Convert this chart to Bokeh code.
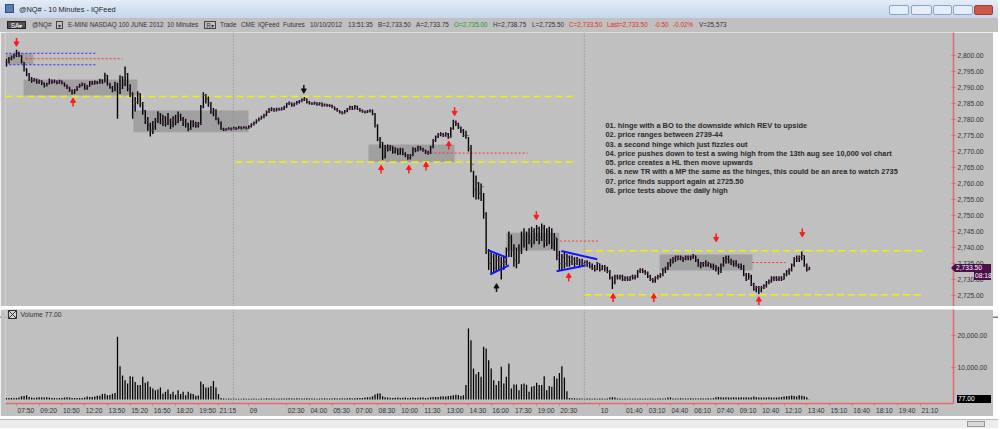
from bokeh.plotting import figure
from bokeh.models import (Range1d, FixedTicker, NumeralTickFormatter, Span, Label, Div,
                          ColumnDataSource, LinearAxis)
from bokeh.layouts import column
from bokeh.core.properties import value
from bokeh.embed import file_html
from bokeh.resources import INLINE

# ---------------- data (10-minute bars, index 0 = first bar on screen) ----------------
closes = [
    2797.9, 2799.0, 2799.5, 2800.0, 2801.0, 2800.0, 2797.9, 2795.8, 2794.3, 2792.7,
    2792.2, 2792.4, 2791.7, 2792.0, 2791.4, 2790.6, 2791.1, 2792.2, 2791.7, 2792.0,
    2791.4, 2792.0, 2791.4, 2790.6, 2790.1, 2789.1, 2788.2, 2789.1, 2790.1, 2790.6,
    2791.1, 2789.6, 2790.3, 2791.7, 2791.1, 2791.7, 2791.4, 2792.2, 2791.7, 2793.8,
    2791.1, 2790.1, 2789.1, 2791.1, 2788.5, 2793.2, 2791.1, 2794.3, 2789.6, 2788.0,
    2783.9, 2785.4, 2788.0, 2784.9, 2782.8, 2779.7, 2778.1, 2776.6, 2777.6, 2779.7,
    2781.8, 2779.2, 2780.7, 2778.7, 2779.7, 2778.1, 2780.2, 2779.2, 2781.3, 2780.2,
    2779.2, 2778.7, 2777.1, 2779.2, 2778.7, 2778.1, 2778.7, 2783.9, 2787.5, 2786.5,
    2784.9, 2782.3, 2782.8, 2780.2, 2779.2, 2777.1, 2776.8, 2777.0, 2777.2, 2777.0,
    2777.4, 2777.1, 2777.6, 2777.3, 2777.6, 2777.2, 2777.8, 2778.4, 2778.9, 2779.7,
    2780.2, 2780.7, 2781.3, 2782.3, 2783.0, 2783.3, 2782.8, 2783.3, 2783.1, 2783.3,
    2783.9, 2784.9, 2785.1, 2784.4, 2784.9, 2785.4, 2785.7, 2786.2, 2786.5, 2785.4,
    2785.1, 2784.9, 2785.2, 2784.7, 2785.1, 2784.4, 2784.6, 2784.4, 2784.4, 2783.9,
    2783.3, 2782.8, 2782.3, 2782.0, 2782.6, 2783.3, 2783.9, 2783.3, 2784.1, 2783.3,
    2782.8, 2782.5, 2782.3, 2782.6, 2782.8, 2781.8, 2778.1, 2773.9, 2772.9, 2768.2,
    2771.4, 2770.8, 2771.6, 2769.8, 2770.8, 2769.3, 2770.8, 2769.3, 2768.8, 2768.0,
    2768.8, 2770.8, 2770.3, 2771.4, 2770.8, 2770.3, 2769.8, 2769.5, 2771.4, 2773.4,
    2774.5, 2775.3, 2775.5, 2775.0, 2775.5, 2774.5, 2777.1, 2779.2, 2778.7, 2777.6,
    2776.6, 2775.0, 2775.0, 2771.0, 2766.0, 2758.0, 2760.0, 2757.0, 2759.0, 2750.5,
    2739.0, 2735.0, 2737.0, 2733.5, 2736.0, 2734.0, 2735.0, 2735.5, 2739.0, 2743.0,
    2739.0, 2736.0, 2735.0, 2739.0, 2743.0, 2742.0, 2744.0, 2742.0, 2745.0, 2743.0,
    2746.0, 2743.0, 2746.0, 2742.0, 2745.0, 2744.0, 2741.0, 2743.0, 2737.5, 2735.0,
    2737.0, 2735.0, 2737.0, 2735.5, 2736.5, 2735.0, 2736.0, 2735.5, 2735.0, 2735.5,
    2735.0, 2734.0, 2733.5, 2733.0, 2735.0, 2733.0, 2734.0, 2733.5, 2732.5, 2730.5,
    2729.0, 2731.0, 2730.5, 2731.0, 2730.0, 2730.5, 2730.0, 2731.0, 2730.5, 2731.0,
    2732.5, 2733.0, 2732.5, 2732.0, 2731.0, 2730.0, 2729.5, 2730.5, 2731.0, 2731.5,
    2733.0, 2733.5, 2735.0, 2736.0, 2736.5, 2737.0, 2736.5, 2737.0, 2736.5, 2737.0,
    2737.0, 2737.0, 2737.5, 2736.0, 2734.5, 2735.0, 2735.0, 2734.5, 2735.0, 2734.0,
    2734.0, 2733.5, 2732.5, 2734.5, 2736.0, 2736.5, 2735.5, 2735.5, 2735.0, 2734.5,
    2734.0, 2733.5, 2731.5, 2730.0, 2731.0, 2728.5, 2727.0, 2727.5, 2726.5, 2727.5,
    2728.0, 2729.0, 2729.5, 2730.5, 2730.5, 2730.0, 2730.5, 2730.0, 2731.5, 2732.5,
    2733.0, 2734.5, 2736.5, 2736.5, 2737.0, 2737.5, 2734.5, 2733.0, 2733.5,
]
highs = [
    2799.0, 2799.5, 2800.0, 2800.5, 2801.8, 2801.2, 2800.2, 2798.0, 2796.0, 2794.5,
    2793.3, 2793.0, 2792.8, 2792.5, 2792.3, 2791.6, 2791.5, 2792.8, 2792.5, 2792.5,
    2792.2, 2792.4, 2792.2, 2791.6, 2790.9, 2790.2, 2789.4, 2789.5, 2790.5, 2791.2,
    2791.6, 2791.3, 2790.8, 2792.0, 2792.0, 2792.2, 2792.0, 2792.7, 2792.6, 2794.6,
    2793.9, 2791.5, 2790.5, 2791.8, 2791.5, 2793.8, 2793.5, 2796.6, 2794.5, 2791.0,
    2788.5, 2787.0, 2788.8, 2788.2, 2785.5, 2783.0, 2780.8, 2779.0, 2779.5, 2780.5,
    2782.6, 2782.0, 2781.5, 2781.0, 2782.0, 2780.3, 2781.0, 2781.5, 2782.5, 2781.8,
    2780.8, 2780.2, 2779.0, 2779.8, 2779.8, 2779.3, 2779.2, 2784.5, 2788.5, 2788.0,
    2787.2, 2785.5, 2783.6, 2783.2, 2780.6, 2779.4, 2777.4, 2777.3, 2777.6, 2777.5,
    2777.8, 2777.6, 2778.0, 2777.8, 2777.9, 2777.8, 2778.2, 2778.8, 2779.4, 2780.1,
    2780.6, 2781.2, 2781.8, 2782.8, 2783.6, 2783.8, 2783.6, 2783.7, 2783.7, 2783.8,
    2784.3, 2785.2, 2785.6, 2785.3, 2785.3, 2785.8, 2786.1, 2786.6, 2787.0, 2786.6,
    2785.8, 2785.4, 2785.6, 2785.4, 2785.4, 2785.3, 2785.0, 2784.9, 2784.8, 2784.6,
    2784.1, 2783.6, 2783.0, 2782.6, 2783.0, 2783.6, 2784.3, 2784.2, 2784.5, 2784.3,
    2783.6, 2783.1, 2782.8, 2783.0, 2783.2, 2783.1, 2782.0, 2778.5, 2774.5, 2773.0,
    2772.0, 2772.2, 2772.0, 2771.8, 2771.3, 2771.0, 2771.2, 2771.0, 2769.8, 2769.2,
    2769.2, 2771.3, 2771.2, 2771.8, 2771.7, 2771.2, 2770.6, 2770.2, 2771.8, 2773.9,
    2775.0, 2775.8, 2776.0, 2775.8, 2776.0, 2775.8, 2777.6, 2779.9, 2779.7, 2779.0,
    2777.8, 2777.0, 2776.5, 2774.5, 2772.0, 2764.0, 2762.5, 2760.5, 2760.0, 2757.0,
    2751.0, 2739.5, 2738.5, 2738.0, 2738.0, 2737.5, 2737.0, 2737.0, 2740.0, 2745.0,
    2744.0, 2741.0, 2740.0, 2741.0, 2745.0, 2746.0, 2745.0, 2746.0, 2746.5, 2746.0,
    2747.0, 2746.5, 2747.5, 2747.0, 2746.0, 2746.5, 2746.0, 2744.5, 2743.0, 2739.0,
    2738.0, 2738.5, 2738.0, 2737.5, 2737.5, 2737.0, 2737.0, 2736.5, 2736.5, 2736.0,
    2736.0, 2735.5, 2735.0, 2734.5, 2735.5, 2735.0, 2734.5, 2734.5, 2734.0, 2733.0,
    2731.0, 2731.5, 2731.5, 2731.5, 2731.5, 2731.0, 2731.0, 2731.0, 2731.5, 2731.5,
    2733.0, 2733.5, 2733.5, 2733.0, 2732.5, 2731.5, 2730.5, 2731.0, 2731.5, 2732.0,
    2733.5, 2734.0, 2735.5, 2736.5, 2737.0, 2737.5, 2737.5, 2737.5, 2737.0, 2737.5,
    2737.5, 2737.5, 2738.0, 2737.5, 2736.5, 2735.5, 2735.5, 2736.0, 2735.5, 2735.0,
    2735.0, 2734.5, 2734.0, 2735.0, 2737.0, 2737.5, 2737.5, 2736.5, 2736.0, 2736.0,
    2735.0, 2735.0, 2734.5, 2732.0, 2732.0, 2731.5, 2729.0, 2728.0, 2728.0, 2728.0,
    2728.5, 2729.5, 2730.0, 2731.0, 2731.0, 2731.0, 2731.0, 2731.0, 2732.0, 2733.0,
    2733.5, 2735.0, 2737.0, 2737.5, 2737.5, 2738.75, 2737.5, 2735.0, 2734.0,
]
lows = [
    2796.5, 2797.5, 2798.5, 2799.0, 2799.5, 2799.5, 2797.5, 2795.0, 2793.5, 2792.0,
    2791.5, 2791.8, 2791.2, 2791.2, 2790.8, 2790.0, 2790.3, 2791.0, 2791.2, 2791.3,
    2791.0, 2791.2, 2790.9, 2790.2, 2789.5, 2788.7, 2787.8, 2788.0, 2788.9, 2789.9,
    2790.4, 2789.3, 2789.3, 2790.2, 2790.8, 2790.9, 2791.0, 2791.2, 2791.2, 2791.6,
    2790.6, 2789.6, 2788.5, 2788.8, 2780.2, 2788.0, 2789.5, 2790.5, 2788.8, 2787.0,
    2780.2, 2782.5, 2784.8, 2783.8, 2781.5, 2778.6, 2776.5, 2774.7, 2775.5, 2776.8,
    2778.9, 2778.5, 2778.0, 2777.8, 2778.3, 2777.0, 2777.6, 2778.2, 2778.8, 2779.5,
    2778.0, 2777.5, 2776.3, 2776.7, 2777.6, 2777.4, 2777.5, 2778.3, 2783.5, 2785.0,
    2784.0, 2781.8, 2781.0, 2779.8, 2778.4, 2776.7, 2776.4, 2776.5, 2776.8, 2776.6,
    2776.8, 2776.7, 2777.0, 2776.9, 2777.1, 2776.9, 2777.0, 2777.5, 2778.1, 2778.7,
    2779.4, 2780.0, 2780.4, 2781.0, 2782.0, 2782.6, 2782.4, 2782.5, 2782.7, 2782.8,
    2783.0, 2783.6, 2784.5, 2784.0, 2784.1, 2784.6, 2785.0, 2785.4, 2785.8, 2785.0,
    2784.7, 2784.5, 2784.6, 2784.3, 2784.4, 2784.0, 2784.1, 2784.0, 2783.9, 2783.5,
    2782.9, 2782.4, 2781.9, 2781.6, 2781.8, 2782.3, 2783.0, 2783.0, 2783.1, 2783.0,
    2782.4, 2782.1, 2781.9, 2782.0, 2782.2, 2781.3, 2777.5, 2773.2, 2771.0, 2767.4,
    2767.8, 2770.0, 2770.2, 2769.3, 2769.4, 2768.9, 2769.0, 2768.8, 2768.2, 2767.4,
    2767.5, 2768.5, 2769.8, 2770.0, 2770.3, 2769.9, 2769.2, 2769.0, 2769.3, 2771.0,
    2773.0, 2774.2, 2774.8, 2774.5, 2774.6, 2774.0, 2774.3, 2776.8, 2778.0, 2777.0,
    2775.8, 2774.5, 2774.0, 2770.0, 2763.5, 2755.7, 2755.0, 2755.0, 2754.5, 2749.0,
    2738.0, 2733.0, 2731.5, 2732.0, 2732.5, 2733.0, 2730.0, 2733.0, 2734.5, 2737.0,
    2737.0, 2734.0, 2733.5, 2735.0, 2738.0, 2740.0, 2739.0, 2741.0, 2740.0, 2741.0,
    2742.0, 2741.0, 2742.0, 2740.0, 2740.5, 2741.0, 2739.5, 2739.0, 2736.0, 2733.0,
    2733.0, 2733.5, 2734.0, 2734.0, 2734.5, 2734.0, 2734.5, 2734.0, 2734.5, 2734.0,
    2734.0, 2733.5, 2733.0, 2732.5, 2733.0, 2732.5, 2733.0, 2732.5, 2732.0, 2730.0,
    2727.0, 2728.5, 2730.0, 2730.0, 2729.5, 2729.5, 2729.5, 2729.5, 2730.0, 2730.0,
    2730.5, 2732.0, 2732.0, 2731.5, 2730.5, 2729.5, 2729.0, 2729.0, 2730.0, 2730.5,
    2731.0, 2732.0, 2733.0, 2734.0, 2735.0, 2735.5, 2736.0, 2736.0, 2735.5, 2736.0,
    2736.0, 2736.0, 2736.5, 2735.5, 2734.0, 2733.5, 2734.0, 2734.0, 2734.0, 2733.5,
    2733.0, 2732.5, 2731.5, 2732.0, 2734.0, 2735.0, 2735.0, 2734.5, 2734.0, 2734.0,
    2733.5, 2733.0, 2731.0, 2729.5, 2730.0, 2728.0, 2726.5, 2726.0, 2725.5, 2726.0,
    2727.0, 2727.5, 2728.5, 2729.0, 2729.5, 2729.5, 2729.5, 2729.5, 2730.0, 2731.0,
    2731.5, 2732.5, 2734.0, 2735.5, 2735.5, 2736.0, 2734.0, 2732.5, 2733.0,
]
volumes = [
    500, 500, 500, 500, 500, 600, 1000, 1100, 1350, 800,
    600, 500, 600, 700, 700, 600, 700, 600, 500, 500,
    400, 500, 500, 600, 700, 600, 500, 500, 500, 500,
    500, 600, 900, 800, 800, 900, 1200, 1200, 1700, 1800,
    1300, 1400, 1800, 2000, 19600, 10400, 7500, 6000, 5000, 7300,
    7100, 5500, 4500, 4500, 7100, 5200, 5600, 4000, 3400, 2900,
    3100, 3750, 1900, 2400, 3100, 1700, 2400, 1500, 2900, 1700,
    2400, 1350, 2400, 1900, 1700, 1150, 1250, 5600, 4800, 3750,
    3750, 4200, 5800, 3750, 1700, 500, 300, 250, 300, 200,
    300, 250, 200, 250, 300, 200, 250, 200, 300, 200,
    250, 300, 200, 400, 300, 350, 300, 250, 300, 350,
    300, 350, 400, 300, 350, 400, 350, 300, 350, 400,
    300, 350, 300, 250, 350, 300, 400, 350, 300, 350,
    400, 350, 300, 400, 350, 400, 450, 350, 400, 500,
    450, 500, 600, 700, 700, 1000, 1600, 1900, 1900, 1000,
    700, 600, 550, 500, 550, 600, 500, 550, 600, 500,
    550, 600, 500, 550, 650, 600, 500, 550, 700, 800,
    750, 800, 900, 1000, 900, 1100, 1200, 1300, 1500, 1400,
    1100, 1300, 4500, 22200, 18500, 9700, 7900, 8600, 7100, 16500,
    15900, 12300, 9700, 6000, 4500, 5800, 10200, 5000, 7100, 11250,
    3400, 4700, 4700, 2900, 4800, 5000, 4600, 2400, 4000, 4200,
    5200, 4500, 4500, 7300, 2900, 4200, 4000, 7300, 6600, 8300,
    10400, 6900, 2600, 500, 400, 400, 300, 300, 300, 250,
    300, 300, 250, 300, 250, 300, 300, 250, 300, 600,
    700, 600, 350, 300, 250, 300, 250, 300, 250, 300,
    250, 300, 250, 300, 250, 300, 300, 250, 300, 350,
    300, 350, 600, 650, 350, 300, 350, 400, 350, 300,
    350, 400, 350, 300, 350, 400, 350, 300, 400, 350,
    400, 700, 750, 700, 650, 700, 600, 650, 700, 650,
    600, 700, 650, 700, 600, 650, 900, 700, 650, 600,
    650, 600, 700, 650, 600, 650, 700, 750, 900, 1000,
    1100, 1250, 1100, 950, 1300, 1200, 1000, 700, 77,
]
assert len(closes) == len(highs) == len(lows) == len(volumes)

time_tick_bars = [4, 13, 22, 31, 40, 49, 58, 67, 76, 84,
                  96, 111, 120, 129, 138, 147, 156, 165, 174, 183, 192, 201, 210, 219,
                  235, 245, 254, 263, 272, 281, 290, 299, 308, 317, 326, 335, 344, 353, 362]
time_tick_labels = ["07:50", "09:20", "10:50", "12:20", "13:50", "15:20", "16:50", "18:20", "19:50", "21:15",
                    "09", "02:30", "04:00", "05:30", "07:00", "08:30", "10:00", "11:30", "13:00", "14:30",
                    "16:00", "17:30", "19:00", "20:30",
                    "10", "01:40", "03:10", "04:40", "06:10", "07:40", "09:10", "10:40", "12:10", "13:40",
                    "15:10", "16:40", "18:10", "19:40", "21:10"]
price_ticks = [2725, 2730, 2735, 2740, 2745, 2750, 2755, 2760, 2765, 2770, 2775, 2780, 2785, 2790, 2795, 2800]
volume_ticks = [10000, 20000]
session_breaks = [89.9, 228.9]
last_price = 2733.50
last_volume = 77
bar_timer = "08:18"

# shaded trading-range boxes
box_left = [-0.4, 6.8, 50.3, 143.4, 198.0, 258.7]
box_right = [10.7, 51.9, 95.9, 177.5, 219.0, 295.5]
box_top = [2800.6, 2792.5, 2782.8, 2772.2, 2744.6, 2737.8]
box_bottom = [2797.2, 2787.5, 2776.0, 2766.7, 2739.1, 2732.8]
# yellow dashed levels
yellow_x0 = [-0.4, 90.7, 229.3, 228.7]
yellow_x1 = [224.2, 224.2, 362.8, 362.8]
yellow_level = [2787.2, 2766.7, 2739.0, 2725.2]
# red dotted levels
red_x0 = [7.6, 168.0, 219.2, 295.4]
red_x1 = [45.9, 206.4, 234.6, 308.6]
red_level = [2799.0, 2769.5, 2742.0, 2735.3]
# blue dotted levels
blue_x0 = [-0.4, -0.4]
blue_x1 = [35.3, 35.3]
blue_level = [2800.7, 2797.1]
# blue triangle sides
tri_x0 = [191.0, 191.7, 219.8, 217.9]
tri_y0 = [2739.1, 2731.6, 2738.9, 2732.6]
tri_x1 = [198.3, 199.0, 234.0, 229.3]
tri_y1 = [2736.8, 2734.4, 2736.3, 2734.4]
# arrows (centre positions)
red_down_x = [4.0, 177.5, 209.9, 281.1, 315.2]
red_down_y = [2804.4, 2782.7, 2750.2, 2743.3, 2744.8]
red_up_x = [26.4, 148.4, 159.4, 166.2, 175.2, 222.7, 240.3, 256.4, 298.0]
red_up_y = [2785.2, 2764.2, 2764.2, 2765.2, 2771.7, 2730.5, 2724.1, 2724.1, 2723.1]
black_down_x = [117.8]
black_down_y = [2789.7]
black_up_x = [194.1]
black_up_y = [2727.2]

notes = [
    "01. hinge with a BO to the downside which REV to upside",
    "02. price ranges between 2739-44",
    "03. a second hinge which just fizzles out",
    "04. price pushes down to test a swing high from the 13th aug see 10,000 vol chart",
    "05. price creates a HL then move upwards",
    "06. a new TR with a MP the same as the hinges, this could be an area to watch 2735",
    "07. price finds support again at 2725.50",
    "08. price tests above the daily high",
]

header_items = [
    ("@NQ#", 32, "#333333"), ("E-MINI NASDAQ 100 JUNE 2012", 68, "#333333"),
    ("10 Minutes", 167, "#333333"), ("Trade", 220, "#333333"), ("CME", 241, "#333333"),
    ("IQFeed", 258, "#333333"), ("Futures", 283, "#333333"), ("10/10/2012", 310, "#333333"),
    ("13:51:35", 348, "#333333"), ("B=2,733.50", 378, "#333333"), ("A=2,733.75", 416, "#333333"),
    ("O=2,735.00", 454, "#1f9a1f"), ("H=2,738.75", 493, "#333333"), ("L=2,725.50", 532, "#333333"),
    ("C=2,733.50", 569, "#e02a2a"), ("Last=2,733.50", 607, "#e02a2a"), ("-0.50", 654, "#e02a2a"),
    ("-0.02%", 673, "#e02a2a"), ("V=25,573", 699, "#333333"),
]
window_title = "@NQ# - 10 Minutes - IQFeed"

# ---------------- layout constants ----------------
FONT = "Liberation Sans"
BG = "#c0c0c0"
AXIS_RED = "#e06a6a"
DIV_W = 998
LEFT = 5
FRAME_W = 948
PRICE_H = 274
VOL_H = 94
X_RANGE = (-0.356, 375.1)
PRICE_RANGE = (2721.56, 2807.19)
VOL_RANGE = (-1250, 28125)
PX_PER_PT = 3.2
VOL_PER_PX = 312.5
PX_PER_BAR = FRAME_W / (X_RANGE[1] - X_RANGE[0])
LABEL_PX = 6.7

def px_x(x):       # screenshot x -> bar index
    return (x - 5.9) / 2.525

def px_price(y):   # screenshot y -> price
    return 2800 - (y - 55) / PX_PER_PT

def px_vol(y):     # screenshot y -> volume
    return (399 - y) * VOL_PER_PX

idx = list(range(len(closes)))
opens = [closes[0]] + closes[:-1]

def style_axis(ax):
    ax.axis_line_color = AXIS_RED
    ax.axis_line_width = 1.5
    ax.major_tick_line_color = AXIS_RED
    ax.minor_tick_line_color = None
    ax.major_label_text_font = FONT
    ax.major_label_text_font_size = f"{LABEL_PX}px"
    ax.major_label_text_color = "#333333"
    ax.major_label_standoff = 2

def style(p):
    p.background_fill_color = BG
    p.border_fill_color = BG
    p.outline_line_color = None
    p.grid.visible = False
    ax = p.yaxis[0]
    style_axis(ax)
    ax.major_tick_in = 2
    ax.major_tick_out = 2
    ax.formatter = NumeralTickFormatter(format="0,0.00")

# ---------------- title bar + header ----------------
btns = ""
for bx, bw, col, bc in [(889, 20, "#e4edf8", "#8ea3bf"), (911, 21, "#e4edf8", "#8ea3bf"),
                        (933, 19, "#e4edf8", "#8ea3bf"), (953, 20, "#e4edf8", "#8ea3bf"),
                        (974, 19, "#d0584a", "#9a4038")]:
    btns += (f'<span style="position:absolute;left:{bx}px;top:5px;width:{bw}px;height:10px;'
             f'border:1px solid {bc};border-radius:2px;background:{col}"></span>')
title_div = Div(
    text=(f'<div style="position:relative;width:{DIV_W}px;height:18px;overflow:hidden;'
          'background:linear-gradient(#e3ecf7,#c6d6eb);font-family:\'Liberation Sans\',Arial;font-size:7.4px;line-height:18px;color:#1e1e1e">'
          '<span style="position:absolute;left:5px;top:4px;width:9px;height:9px;background:#5b7db0;border:1px solid #2f4f80"></span>'
          f'<span style="position:absolute;left:19px;top:1px">{window_title}</span>' + btns +
          '</div>'),
    width=DIV_W, height=18, margin=(0, 0, 0, 0))

spans = []
spans.append('<span style="position:absolute;left:7px;top:3px;width:19px;height:8px;background:#505050;'
             'border:1px solid #222;color:#fff;line-height:8px;text-align:center">SA&#9662;</span>')
spans.append('<span style="position:absolute;left:56px;top:3px;width:7px;height:8px;border:1px solid #444;'
             'line-height:8px;text-align:center;color:#333">&#9662;</span>')
spans.append('<span style="position:absolute;left:204px;top:3px;width:12px;height:8px;border:1px solid #444;'
             'line-height:8px;text-align:center;color:#333">R&#9662;</span>')
for txt, x, col in header_items:
    spans.append(f'<span style="position:absolute;left:{x}px;top:0;color:{col};white-space:nowrap">{txt}</span>')
# price-scale flags (last price, bar timer, last volume), overlaid on the scales
HEADER_TOP = 18
flag_css = ('position:absolute;z-index:20;white-space:nowrap;color:#fff;font-size:6.7px;'
            'line-height:8px;height:8px;padding:0 1px;')
spans.append(f'<span style="{flag_css}left:955px;top:{264 - HEADER_TOP}px;width:36px;background:#4b0f4b">'
             f'{last_price:,.2f}</span>')
spans.append(f'<span style="position:absolute;z-index:20;left:951px;top:{264 - HEADER_TOP}px;width:0;height:0;'
             'border-top:4px solid transparent;border-bottom:4px solid transparent;border-right:4px solid #4b0f4b"></span>')
spans.append(f'<span style="{flag_css}left:974px;top:{272 - HEADER_TOP}px;width:17px;background:#4b0f4b">'
             f'{bar_timer}</span>')
spans.append(f'<span style="{flag_css}left:957px;top:{395 - HEADER_TOP}px;width:34px;background:#000">'
             f'{last_volume:.2f}</span>')
header_div = Div(
    text=(f'<div style="position:relative;width:{DIV_W}px;height:14px;background:{BG};overflow:visible;'
          f'font-family:\'Liberation Sans\',Arial;font-size:6.4px;line-height:14px">' + "".join(spans) + '</div>'),
    width=DIV_W, height=14, margin=(0, 0, 0, 0), styles={"overflow": "visible", "z-index": "20"})

# ---------------- price panel ----------------
p = figure(frame_width=FRAME_W, frame_height=PRICE_H, output_backend="svg", toolbar_location=None,
           x_range=Range1d(*X_RANGE), y_range=Range1d(*PRICE_RANGE),
           x_axis_location=None, y_axis_location="right",
           min_border_left=LEFT, min_border_top=0, min_border_bottom=0, min_border_right=40)
style(p)
p.yaxis.ticker = FixedTicker(ticks=price_ticks)

for sb in session_breaks:
    p.add_layout(Span(location=sb, dimension="height", line_color="#8c8c8c", line_dash="1 2", line_width=1))

p.quad(left=box_left, right=box_right, top=box_top, bottom=box_bottom,
       fill_color="#808080", fill_alpha=0.5, line_color=None)
p.segment(x0=yellow_x0, x1=yellow_x1, y0=yellow_level, y1=yellow_level,
          line_color="#f2f200", line_width=1.5, line_dash="7 4")
p.segment(x0=red_x0, x1=red_x1, y0=red_level, y1=red_level,
          line_color="#ff3030", line_width=1, line_dash="2 2")
p.segment(x0=blue_x0, x1=blue_x1, y0=blue_level, y1=blue_level,
          line_color="#2222ff", line_width=1, line_dash="2 2")

src = ColumnDataSource(dict(x=idx, o=opens, h=highs, l=lows, c=closes,
                            xl=[i - 0.45 for i in idx], xr=[i + 0.45 for i in idx]))
p.segment(x0="x", x1="x", y0="l", y1="h", source=src, line_color="#000000", line_width=1.4)
p.segment(x0="xl", x1="x", y0="o", y1="o", source=src, line_color="#6a246a", line_width=1.1)
p.segment(x0="x", x1="xr", y0="c", y1="c", source=src, line_color="#6a246a", line_width=1.1)

p.segment(x0=tri_x0, x1=tri_x1, y0=tri_y0, y1=tri_y1, line_color="#1414ff", line_width=2)

HALF = 1.1  # half arrow length in price points (~7px total)
def arrows(xs, ys, color, down):
    p.segment(x0=xs, x1=xs, y0=[y - HALF for y in ys], y1=[y + HALF for y in ys],
              line_color=color, line_width=1.5)
    if down:
        p.scatter(xs, [y - 0.6 for y in ys], marker="inverted_triangle", size=5,
                  fill_color=color, line_color=color)
    else:
        p.scatter(xs, [y + 0.6 for y in ys], marker="triangle", size=5,
                  fill_color=color, line_color=color)

arrows(red_down_x, red_down_y, "#ff1a1a", True)
arrows(red_up_x, red_up_y, "#ff1a1a", False)
arrows(black_down_x, black_down_y, "#111111", True)
arrows(black_up_x, black_up_y, "#111111", False)

line_step = 9.3 / PX_PER_PT
p.text(x=[px_x(605)] * len(notes), y=[px_price(125) - k * line_step for k in range(len(notes))],
       text=notes, text_font=value(FONT), text_font_size=value("7.4px"), text_font_style="bold",
       text_color="#2a2a2a", text_baseline="middle", text_align="left")

# ---------------- separator ----------------
sep = Div(text=f'<div style="width:{DIV_W}px;height:3px;background:linear-gradient(#f4f4f4,#f4f4f4 33%,#c0c0c0 33%,#c0c0c0 66%,#7a7a7a 66%)"></div>',
          width=DIV_W, height=3, margin=(0, 0, 0, 0))

# ---------------- volume panel ----------------
v = figure(frame_width=FRAME_W, frame_height=VOL_H, output_backend="svg", toolbar_location=None,
           x_range=p.x_range, y_range=Range1d(*VOL_RANGE),
           x_axis_location=None, y_axis_location="right",
           min_border_left=LEFT, min_border_top=0, min_border_bottom=0, min_border_right=40)
style(v)
v.yaxis.ticker = FixedTicker(ticks=volume_ticks)

for sb in session_breaks:
    v.add_layout(Span(location=sb, dimension="height", line_color="#8c8c8c", line_dash="1 2", line_width=1))

v.vbar(x=idx, top=volumes, bottom=0, width=0.5, fill_color="#000000", line_color=None)

# time axis: tick marks at the bar times (minor ticks), labels start just right of each tick
def label_width(s):
    return sum(0.556 if ch.isdigit() else 0.278 for ch in s) * LABEL_PX

label_centers = [round(b + (1 + label_width(s) / 2) / PX_PER_BAR, 3)
                 for b, s in zip(time_tick_bars, time_tick_labels)]
xax = LinearAxis(ticker=FixedTicker(ticks=label_centers, minor_ticks=time_tick_bars),
                 major_label_overrides={c: s for c, s in zip(label_centers, time_tick_labels)})
style_axis(xax)
xax.major_tick_in = 0
xax.major_tick_out = 0
xax.minor_tick_line_color = AXIS_RED
xax.minor_tick_in = 0
xax.minor_tick_out = 2
xax.major_label_standoff = 1
v.add_layout(xax, "below")

v.scatter([px_x(12)], [px_vol(314)], marker="square_x", size=8, fill_color="#d4d4d4",
          line_color="#303030", line_width=1)
v.add_layout(Label(x=px_x(20), y=px_vol(314), text=f"Volume  {last_volume:.2f}",
                   text_font=FONT, text_font_size="6.7px", text_color="#333333",
                   text_baseline="middle", text_align="left"))

scroll = Div(text=(f'<div style="position:relative;width:{DIV_W}px;height:9px;background:#ececec;border-top:1px solid #b8b8b8">'
                   '<span style="position:absolute;left:967px;top:1px;width:18px;height:6px;background:#d8d8d8;border:1px solid #9a9a9a"></span>'
                   '</div>'),
             width=DIV_W, height=9, margin=(0, 0, 0, 0))

layout = column(title_div, header_div, p, sep, v, scroll, spacing=0)
open("out.html", "w").write(file_html(layout, INLINE))
